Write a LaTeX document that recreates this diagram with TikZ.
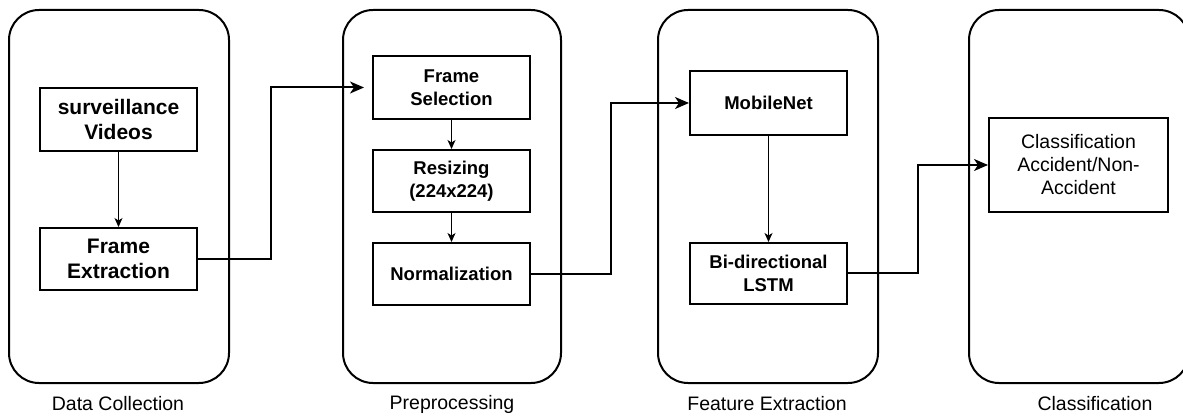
\documentclass[tikz,border=0pt]{standalone}
\usepackage{fontspec}
\setmainfont{Liberation Sans}
\usetikzlibrary{arrows.meta}
\begin{document}
\begin{tikzpicture}[x=1pt,y=-1pt,
  panel/.style={draw,line width=2pt,rounded corners=30pt},
  box/.style={draw,line width=2pt,align=center,inner sep=0pt},
  bigbox/.style={box,minimum width=157pt,font=\fontsize{21}{25}\selectfont\bfseries},
  midbox/.style={box,minimum width=157pt,font=\fontsize{18.5}{23}\selectfont\bfseries},
  regbox/.style={box,font=\fontsize{19.5}{23}\selectfont},
  lbl/.style={font=\fontsize{19.5}{23}\selectfont,inner sep=0pt},
  thin/.style={line width=1pt,-{Stealth[length=9pt,width=8pt,inset=2.5pt]}},
  thick/.style={line width=2pt,-{Stealth[length=14pt,width=12pt,inset=4pt]}}]
\useasboundingbox (0,0) rectangle (1183,419);
\fill[white] (0,0) rectangle (1183,419);
% panels
\draw[panel] (9,10) rectangle (229,383);
\draw[panel] (343,10) rectangle (561,383);
\draw[panel] (658,10) rectangle (878,383);
\draw[panel] (969,10) rectangle (1189,383);
% labels
\node[lbl] (l1) at (118,404) {Data Collection};
\node[lbl] (l2) at (452,404) {Preprocessing};
\node[lbl] (l3) at (767,404) {Feature Extraction};
\node[lbl] (l4) at (1095,404) {Classification};
% boxes
\node[bigbox,minimum height=63pt] (sv) at (118.5,119.5) {surveillance\\Videos};
\node[bigbox,minimum height=62pt] (fe) at (118.5,259) {Frame\\Extraction};
\node[midbox,minimum height=63pt] (fs) at (451.5,87.5) {Frame\\Selection};
\node[midbox,minimum height=62pt] (rs) at (451.5,181) {Resizing\\(224x224)};
\node[midbox,minimum height=62pt] (nm) at (451.5,274) {Normalization};
\node[midbox,minimum height=64pt] (mn) at (768.5,103) {MobileNet};
\node[midbox,minimum height=61pt] (bl) at (768.5,273.5) {Bi-directional\\LSTM};
\node[regbox,minimum width=179pt,minimum height=94pt] (cl) at (1078.5,165) {Classification\\Accident/Non-\\Accident};
% connectors
\draw[thin] (sv) -- (fe);
\draw[thin] (fs) -- (rs);
\draw[thin] (rs) -- (nm);
\draw[thin] (mn) -- (bl);
\draw[thick,shorten >=8pt] (fe.east) -- ++(73,0) |- (fs.west);
\draw[thick] (nm.east) -- ++(80,0) |- (mn.west);
\draw[thick] (bl.east) -- ++(70,0) |- (cl.west);
\end{tikzpicture}
\end{document}
